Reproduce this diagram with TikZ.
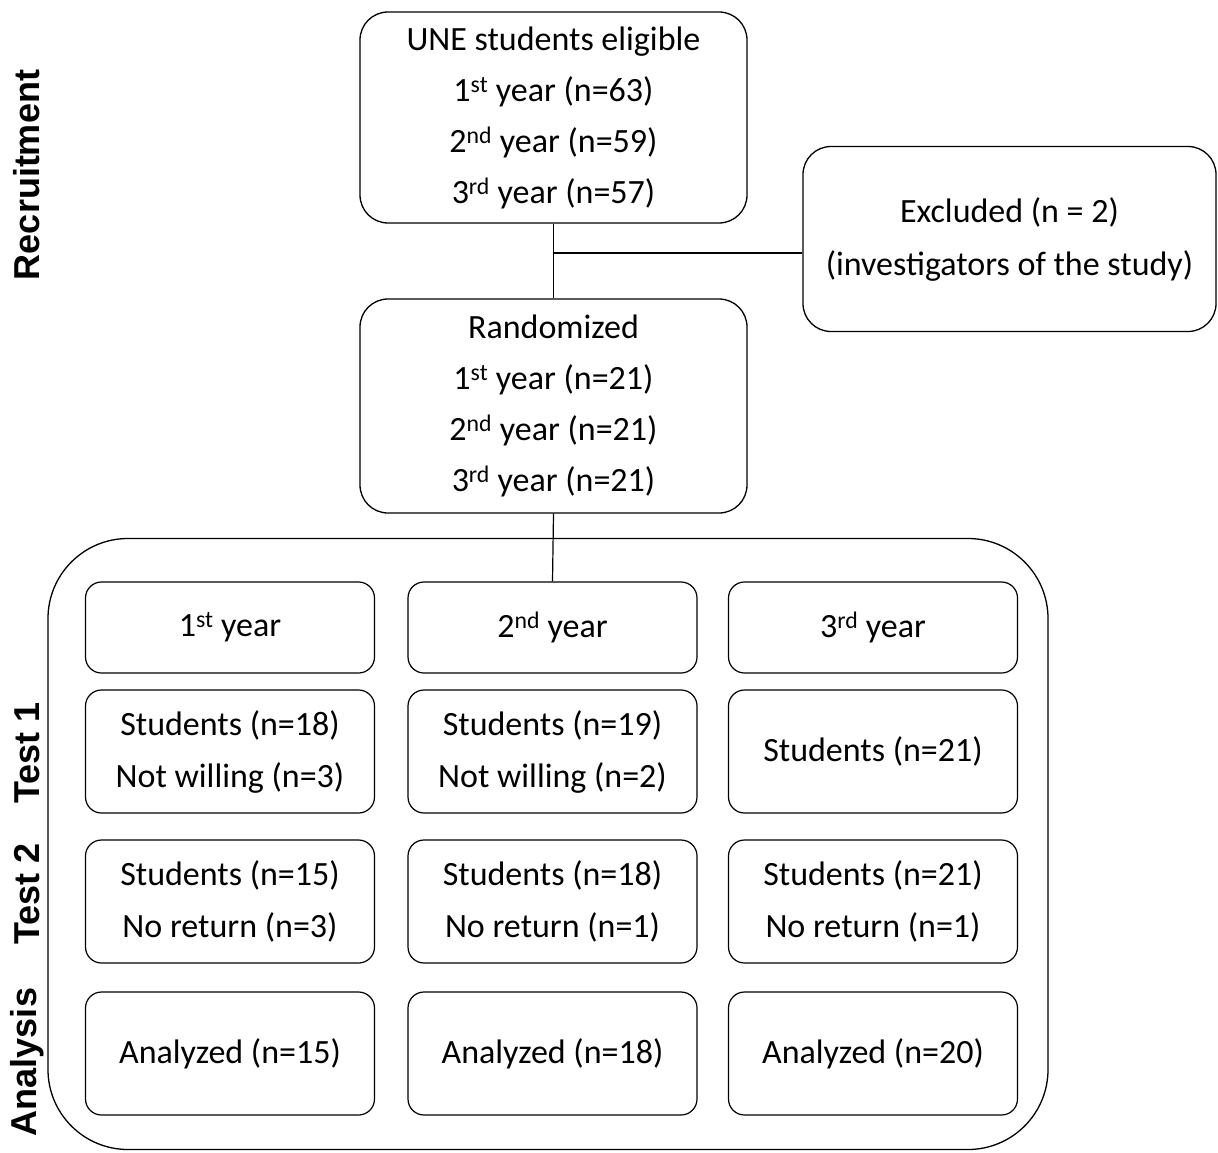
\documentclass[tikz,border=0pt]{standalone}
\usepackage{fontspec}
\setmainfont{Carlito}
\newfontfamily\lblfont{Liberation Sans}
\tikzset{
  box/.style={draw, line width=1.3pt, rounded corners=28pt, align=center, inner sep=0pt,
    font=\fontsize{34}{51}\selectfont},
  cell/.style={draw, line width=1.2pt, rounded corners=16pt, minimum width=289pt,
    minimum height=123pt, align=center, inner sep=0pt, font=\fontsize{34}{52}\selectfont},
  side/.style={rotate=90, inner sep=0pt, font=\lblfont\bfseries\fontsize{36}{36}\selectfont},
  conn/.style={line width=1.2pt}
}
\begin{document}
\begin{tikzpicture}[x=1pt,y=-1pt]
\useasboundingbox (0,0) rectangle (1218,1153);
% recruitment
\node[box, minimum width=387pt, minimum height=211pt] (elig) at (553.5,117.5)
  {UNE students eligible\\1\textsuperscript{st} year (n=63)\\2\textsuperscript{nd} year (n=59)\\3\textsuperscript{rd} year (n=57)};
\node[box, minimum width=387pt, minimum height=214pt] (rand) at (553.5,406)
  {Randomized\\1\textsuperscript{st} year (n=21)\\2\textsuperscript{nd} year (n=21)\\3\textsuperscript{rd} year (n=21)};
\node[box, minimum width=413pt, minimum height=185pt, font=\fontsize{34}{53}\selectfont] (excl) at (1009.5,239)
  {Excluded (n = 2)\\(investigators of the study)};
% group
\node[draw, line width=1.3pt, rounded corners=80pt, minimum width=1000pt, minimum height=611pt, inner sep=0pt] (grp) at (548,844) {};
% year headers
\node[cell, minimum height=91pt] (y1) at (230,627.5) {1\textsuperscript{st} year};
\node[cell, minimum height=91pt] (y2) at (552.5,627.5) {2\textsuperscript{nd} year};
\node[cell, minimum height=91pt] (y3) at (873,627.5) {3\textsuperscript{rd} year};
% test 1
\node[cell] (a1) at (230,751.5) {Students (n=18)\\Not willing (n=3)};
\node[cell] (a2) at (552.5,751.5) {Students (n=19)\\Not willing (n=2)};
\node[cell] (a3) at (873,751.5) {Students (n=21)};
% test 2
\node[cell] (b1) at (230,901.5) {Students (n=15)\\No return (n=3)};
\node[cell] (b2) at (552.5,901.5) {Students (n=18)\\No return (n=1)};
\node[cell] (b3) at (873,901.5) {Students (n=21)\\No return (n=1)};
% analysis
\node[cell] (c1) at (230,1053.5) {Analyzed (n=15)};
\node[cell] (c2) at (552.5,1053.5) {Analyzed (n=18)};
\node[cell] (c3) at (873,1053.5) {Analyzed (n=20)};
% side labels
\node[side] (lrec) at (27,175) {Recruitment};
\node[side] (lt1) at (27,753) {Test 1};
\node[side] (lt2) at (27,894) {Test 2};
\node[side] (lan) at (27,1062) {Analysis};
% connectors
\coordinate (j) at (553.5,253);
\draw[conn] (elig.south) -- (rand.north);
\draw[conn] (j) -- (j -| excl.west);
\draw[conn] (rand.south) -- (y2.north);
\end{tikzpicture}
\end{document}
